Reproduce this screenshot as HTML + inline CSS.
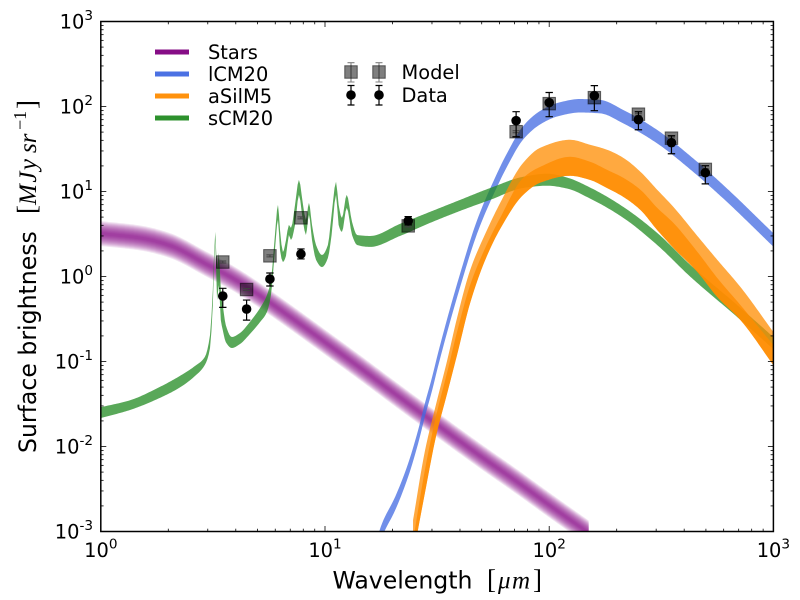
<!DOCTYPE html>
<html>
<head>
<meta charset="utf-8">
<title>Surface brightness SED</title>
<style>
html,body{margin:0;padding:0;background:#fff;}
svg{display:block;font-family:"DejaVu Sans",sans-serif;fill:#000;}
</style>
</head>
<body>
<svg id="chart" xmlns="http://www.w3.org/2000/svg" width="800" height="600" viewBox="0 0 800 600">
  <defs><clipPath id="plot-clip"><rect x="100.8" y="21.5" width="672.6" height="510"/></clipPath></defs>
  <g id="bands" clip-path="url(#plot-clip)"></g>
  <g id="points" clip-path="url(#plot-clip)"></g>
  <rect x="100.8" y="21.5" width="672.6" height="510" fill="none" stroke="#000" stroke-width="1.5"/>
  <g id="ticks"></g>
  <g id="tick-labels"></g>

  <text y="588.5" font-size="23.6"><tspan x="332.5">Wavelength</tspan><tspan x="487" font-family="'Liberation Serif',serif" font-size="27">[</tspan><tspan x="498" font-family="'Liberation Serif',serif" font-style="italic" font-size="25" letter-spacing="1.5">μm</tspan><tspan x="533" font-family="'Liberation Serif',serif" font-size="27">]</tspan></text>
  <text transform="translate(36 453) rotate(-90)" font-size="23.6"><tspan x="0">Surface brightness</tspan><tspan x="239" font-family="'Liberation Serif',serif" font-size="27">[</tspan><tspan x="248" font-family="'Liberation Serif',serif" font-style="italic" font-size="25" letter-spacing="1.5">MJy</tspan><tspan x="300" font-family="'Liberation Serif',serif" font-style="italic" font-size="25">sr</tspan><tspan x="323" dy="-10" font-family="'Liberation Serif',serif" font-size="18">−1</tspan><tspan x="344" dy="10" font-family="'Liberation Serif',serif" font-size="27">]</tspan></text>

  <g font-size="19.4">
    <g><line x1="155" x2="189" y1="52" y2="52" stroke="#800080" stroke-width="5" stroke-opacity=".95"/><text x="208" y="59">Stars</text></g>
    <g><line x1="155" x2="189" y1="74" y2="74" stroke="#4169e1" stroke-width="5" stroke-opacity=".95"/><text x="208" y="81">lCM20</text></g>
    <g><line x1="155" x2="189" y1="96" y2="96" stroke="#ff8c00" stroke-width="5" stroke-opacity=".95"/><text x="208" y="103">aSilM5</text></g>
    <g><line x1="155" x2="189" y1="118" y2="118" stroke="#228b22" stroke-width="5" stroke-opacity=".95"/><text x="208" y="125">sCM20</text></g>
  </g>
  <g font-size="19.4">
    <g>
      <path d="M351 62.7V82M347.5 62.7H354.5M347.5 82H354.5M379 62.7V82M375.5 62.7H382.5M375.5 82H382.5" stroke="#808080" fill="none" stroke-width="1.1"/>
      <rect x="344.75" y="65.75" width="12.5" height="12.5" fill="#000" fill-opacity=".5" stroke="#000" stroke-opacity=".55" stroke-width="1"/>
      <rect x="372.75" y="65.75" width="12.5" height="12.5" fill="#000" fill-opacity=".5" stroke="#000" stroke-opacity=".55" stroke-width="1"/>
      <text x="401.5" y="79">Model</text>
    </g>
    <g>
      <path d="M351 85.5V105M347.5 85.5H354.5M347.5 105H354.5M379 85.5V105M375.5 85.5H382.5M375.5 105H382.5" stroke="#000" fill="none" stroke-width="1.2"/>
      <circle cx="351" cy="95" r="4.8"/>
      <circle cx="379" cy="95" r="4.8"/>
      <text x="401.5" y="102">Data</text>
    </g>
  </g>
</svg>
<script>
// ---- Data (wavelength in micron, surface brightness in MJy/sr) ----
const xTickExponents = [0, 1, 2, 3];
const yTickExponents = [-3, -2, -1, 0, 1, 2, 3];

const starWave = [1, 1.5, 2, 3, 4, 5, 7, 10, 15, 20, 30, 50, 70, 100, 150];
const starFlux = [3.2, 2.84, 2.35, 1.37, 0.91, 0.622, 0.334, 0.169, 0.0773, 0.0438, 0.01995, 0.00752, 0.00404, 0.00205, 0.00096];

const lcmWave = [16.7, 17.97, 20.6, 23.5, 26.0, 27.9, 30.1, 31.9, 40.1, 47.7, 58.6, 64.9, 76.6, 91.2, 109, 137, 169, 214, 303, 426, 598, 1000];
const lcmFlux = [0.000574, 0.00104, 0.00216, 0.0053, 0.0129, 0.0269, 0.0558, 0.104, 0.91, 3.84, 13.7, 23.6, 49.2, 74, 91.8, 102, 99.6, 75.9, 44.2, 21.8, 9.91, 2.69];

const silWave = [24.7, 27.9, 31.3, 35.1, 38.8, 44.4, 51.8, 60.4, 76.6, 91.2, 124, 152, 181, 214, 255, 303, 358, 458, 562, 713, 1000];
const silHigh = [0.00136, 0.00885, 0.0316, 0.104, 0.325, 1.19, 3.16, 7.32, 21.8, 32.7, 40.6, 35.5, 31.0, 24.9, 17.1, 10.5, 6.59, 3.0, 1.57, 0.752, 0.222];
const silMid = [0.000773, 0.0053, 0.0229, 0.0752, 0.222, 0.794, 2.16, 4.88, 14.5, 19.5, 25.6, 22.4, 18.0, 14.5, 10.5, 6.43, 4.27, 1.95, 0.96, 0.461, 0.156];
const silLow = [0.000515, 0.00284, 0.0133, 0.0426, 0.119, 0.488, 1.56, 3.62, 9.14, 12.7, 15.3, 13.7, 11.0, 8.65, 6.08, 3.53, 2.17, 1.13, 0.573, 0.307, 0.0906];

const scmWave = [1, 1.35, 1.83, 2.25, 2.63, 2.91, 3.07, 3.16, 3.24, 3.30, 3.36, 3.43, 3.50, 3.61, 3.84, 4.17, 4.62, 5.13, 5.51, 5.74, 5.98, 6.17, 6.30, 6.49, 6.70, 6.90, 7.05, 7.35, 7.65, 7.98, 8.22, 8.48, 8.75, 9.12, 9.70, 10.3, 10.7, 11.2, 11.5, 11.9, 12.5, 13.2, 13.9, 15.9, 21.6, 29.4, 40.1, 54.6, 76.6, 97.9, 120, 152, 214, 303, 426, 690, 1000];
const scmHigh = [0.029, 0.035, 0.0501, 0.0675, 0.0885, 0.113, 0.205, 0.693, 3.35, 1.19, 1.89, 0.693, 0.461, 0.268, 0.194, 0.216, 0.291, 0.425, 0.605, 0.91, 3.08, 6.97, 3.53, 1.94, 2.69, 4.05, 3.73, 6.97, 13.7, 6.97, 4.63, 7.35, 4.05, 2.35, 1.79, 2.35, 5.31, 13.0, 6.97, 4.9, 9.14, 4.39, 3.08, 3.0, 4.16, 5.76, 7.98, 11.0, 14.9, 16.2, 14.6, 11.15, 6.59, 3.26, 1.37, 0.461, 0.194];
const scmLow = [0.0216, 0.0269, 0.0372, 0.0494, 0.0675, 0.091, 0.144, 0.462, 2.69, 0.528, 0.794, 0.307, 0.234, 0.169, 0.144, 0.16, 0.21, 0.291, 0.382, 0.605, 2.05, 4.63, 2.05, 1.48, 1.75, 3.08, 2.69, 4.05, 9.14, 4.39, 3.08, 5.31, 2.69, 1.57, 1.29, 1.65, 3.08, 9.14, 4.05, 3.35, 6.42, 3.08, 2.35, 2.23, 3.0, 4.27, 5.92, 7.98, 11.0, 11.7, 10.85, 8.27, 4.9, 2.35, 0.994, 0.333, 0.14];

const bandWave = [3.5, 4.47, 5.68, 7.81, 23.5, 71.2, 100, 159, 250, 351, 497];
const modelFlux = [1.48, 0.703, 1.75, 4.9, 3.94, 50.5, 108, 127, 81.2, 42.4, 18.2];
const dataFlux = [0.589, 0.414, 0.934, 1.84, 4.51, 68.1, 111, 134, 69.9, 37.5, 16.6];
const dataHigh = [0.726, 0.528, 1.1, 2.11, 5.07, 86.9, 146, 176, 86.9, 45.3, 20.1];
const dataLow = [0.433, 0.307, 0.773, 1.61, 4.05, 44.1, 75.9, 89.3, 53.3, 27.8, 12.3];

// ---- Axis functions ----
const PX = {left: 100.8, right: 773.4, top: 21.5, bottom: 531.5};
function xAxis(w) { return PX.left + Math.log10(w) / 3 * (PX.right - PX.left); }
function yAxis(v) { return PX.bottom - (Math.log10(v) + 3) / 6 * (PX.bottom - PX.top); }

const NS = 'http://www.w3.org/2000/svg';
function make(tag, parent) {
  const el = document.createElementNS(NS, tag);
  parent.appendChild(el);
  return el;
}
// Monotone cubic curve through the mapped points, so curves stay smooth on screen
function smoothEdge(wave, flux) {
  const xs = wave.map(xAxis), ys = flux.map(yAxis), n = xs.length;
  const h = [], s = [], m = new Array(n);
  for (let i = 0; i < n - 1; i++) { h[i] = xs[i + 1] - xs[i]; s[i] = (ys[i + 1] - ys[i]) / h[i]; }
  m[0] = s[0];
  m[n - 1] = s[n - 2];
  for (let i = 1; i < n - 1; i++) {
    if (s[i - 1] * s[i] <= 0) { m[i] = 0; }
    else {
      const w1 = 2 * h[i] + h[i - 1], w2 = h[i] + 2 * h[i - 1];
      m[i] = (w1 + w2) / (w1 / s[i - 1] + w2 / s[i]);
    }
  }
  const out = [];
  for (let i = 0; i < n - 1; i++) {
    const steps = Math.max(1, Math.ceil(h[i] / 1.5));
    for (let k = 0; k < steps; k++) {
      const t = k / steps, t2 = t * t, t3 = t2 * t;
      const y = (2 * t3 - 3 * t2 + 1) * ys[i] + (t3 - 2 * t2 + t) * h[i] * m[i] + (-2 * t3 + 3 * t2) * ys[i + 1] + (t3 - t2) * h[i] * m[i + 1];
      out.push([xs[i] + t * h[i], y]);
    }
  }
  out.push([xs[n - 1], ys[n - 1]]);
  return out;
}
function bandPath(wave, upper, lower) {
  const top = smoothEdge(wave, upper);
  const bottom = smoothEdge(wave, lower).reverse();
  return 'M' + top.concat(bottom).map(function (p) { return p[0].toFixed(2) + ' ' + p[1].toFixed(2); }).join('L') + 'Z';
}
function scaled(arr, f) { return arr.map(function (v) { return v * f; }); }

const bands = document.getElementById('bands');
const points = document.getElementById('points');
const ticks = document.getElementById('ticks');
const tickLabels = document.getElementById('tick-labels');

// Stars: soft-edged band built from nested layers
[12.5, 11.5, 10.5, 9.5, 8.5, 7.5, 6.5, 5.5, 4.5, 3.5, 2.5, 1.5].forEach(function (halfPx) {
  const f = Math.pow(10, halfPx / 85);
  const p = make('path', bands);
  
  
  p.setAttribute('d', bandPath(starWave, scaled(starFlux, f), scaled(starFlux, 1 / f)));
  p.setAttribute('fill', '#800080');
  p.setAttribute('fill-opacity', '0.105');
});

// lCM20
const lcmBand = make('path', bands);


lcmBand.setAttribute('d', bandPath(lcmWave, scaled(lcmFlux, 1.2), scaled(lcmFlux, 1 / 1.2)));
lcmBand.setAttribute('fill', '#4169e1');
lcmBand.setAttribute('fill-opacity', '0.75');

// sCM20
const scmBand = make('path', bands);


scmBand.setAttribute('d', bandPath(scmWave, scmHigh, scmLow));
scmBand.setAttribute('fill', '#228b22');
scmBand.setAttribute('fill-opacity', '0.75');

// aSilM5: upper and lower overlapping bands
const silUpper = make('path', bands);


silUpper.setAttribute('d', bandPath(silWave, silHigh, silLow));
silUpper.setAttribute('fill', '#ff8c00');
silUpper.setAttribute('fill-opacity', '0.75');

const silLower = make('path', bands);


silLower.setAttribute('d', bandPath(silWave, silMid, silLow));
silLower.setAttribute('fill', '#ff8c00');
silLower.setAttribute('fill-opacity', '0.8');

// Model squares
bandWave.forEach(function (w, i) {
  const x = xAxis(w), y = yAxis(modelFlux[i]);
  const err = make('path', points);
  
  
  err.setAttribute('d', 'M' + x + ' ' + (y - 1) + 'V' + (y + 1) + 'M' + (x - 3.5) + ' ' + (y - 1) + 'H' + (x + 3.5) + 'M' + (x - 3.5) + ' ' + (y + 1) + 'H' + (x + 3.5));
  err.setAttribute('stroke', '#808080');
  err.setAttribute('fill', 'none');
  const sq = make('rect', points);
  
  
  sq.setAttribute('x', x - 6.25);
  sq.setAttribute('y', y - 6.25);
  sq.setAttribute('width', 12.5);
  sq.setAttribute('height', 12.5);
  sq.setAttribute('fill', '#000');
  sq.setAttribute('fill-opacity', '0.5');
  sq.setAttribute('stroke', '#000');
  sq.setAttribute('stroke-opacity', '0.55');
});

// Observed data with error bars
bandWave.forEach(function (w, i) {
  const x = xAxis(w), y = yAxis(dataFlux[i]), hi = yAxis(dataHigh[i]), lo = yAxis(dataLow[i]);
  const err = make('path', points);
  
  
  err.setAttribute('d', 'M' + x + ' ' + hi + 'V' + lo + 'M' + (x - 3.7) + ' ' + hi + 'H' + (x + 3.7) + 'M' + (x - 3.7) + ' ' + lo + 'H' + (x + 3.7));
  err.setAttribute('stroke', '#000');
  err.setAttribute('stroke-width', '1.2');
  err.setAttribute('fill', 'none');
  const dot = make('circle', points);
  
  
  dot.setAttribute('cx', x);
  dot.setAttribute('cy', y);
  dot.setAttribute('r', 4.8);
});

// Ticks
function tickLine(x1, y1, x2, y2) {
  const t = make('line', ticks);
  
  
  t.setAttribute('x1', x1);
  t.setAttribute('y1', y1);
  t.setAttribute('x2', x2);
  t.setAttribute('y2', y2);
  t.setAttribute('stroke', '#000');
  t.setAttribute('stroke-width', '0.8');
}
xTickExponents.forEach(function (e, idx) {
  const major = xAxis(Math.pow(10, e));
  tickLine(major, PX.bottom, major, PX.bottom - 5.5);
  tickLine(major, PX.top, major, PX.top + 5.5);
  if (idx < xTickExponents.length - 1) {
    for (let m = 2; m < 10; m++) {
      const x = xAxis(m * Math.pow(10, e));
      tickLine(x, PX.bottom, x, PX.bottom - 2.8);
      tickLine(x, PX.top, x, PX.top + 2.8);
    }
  }
});
yTickExponents.forEach(function (e, idx) {
  const major = yAxis(Math.pow(10, e));
  tickLine(PX.left, major, PX.left + 5.5, major);
  tickLine(PX.right, major, PX.right - 5.5, major);
  if (idx < yTickExponents.length - 1) {
    for (let m = 2; m < 10; m++) {
      const y = yAxis(m * Math.pow(10, e));
      tickLine(PX.left, y, PX.left + 2.8, y);
      tickLine(PX.right, y, PX.right - 2.8, y);
    }
  }
});

// Tick labels
function powerLabel(parent, exponent, x, y, anchor) {
  const t = make('text', parent);
  t.setAttribute('x', x);
  t.setAttribute('y', y);
  t.setAttribute('font-size', '19.4');
  t.setAttribute('text-anchor', anchor);
  t.textContent = '10';
  const s = make('tspan', t);
  s.setAttribute('font-size', '13.6');
  s.setAttribute('dy', '-8.5');
  s.textContent = String(exponent);
  return t;
}
xTickExponents.forEach(function (e) {
  const label = powerLabel(tickLabels, e, xAxis(Math.pow(10, e)), 557, 'middle');
  
  
});
yTickExponents.forEach(function (e) {
  const label = powerLabel(tickLabels, e, 93, yAxis(Math.pow(10, e)) + 6.8, 'end');
  
  
});
</script>
</body>
</html>
